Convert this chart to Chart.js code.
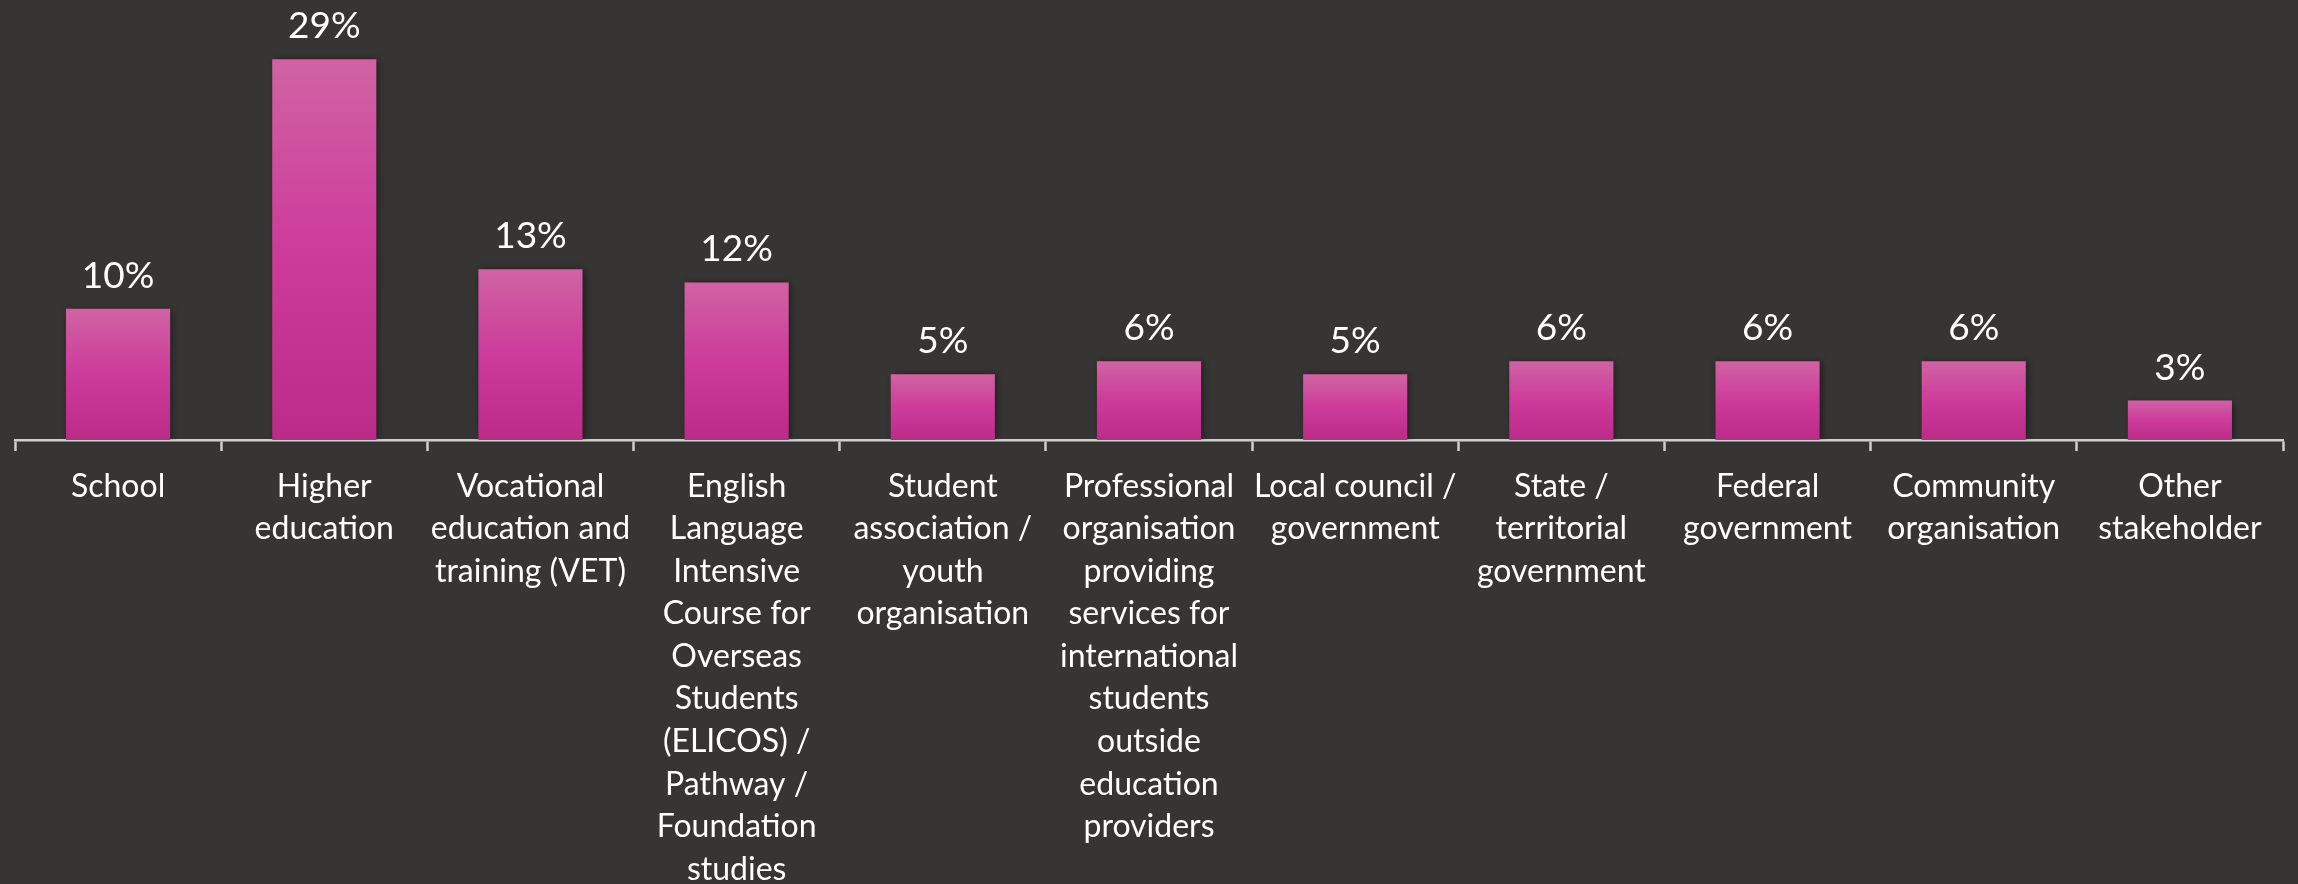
<!DOCTYPE html>
<html lang="en">
<head>
<meta charset="utf-8">
<title>Stakeholder types</title>
<script src="https://cdn.jsdelivr.net/npm/chart.js@4/dist/chart.umd.min.js"></script>
<style>
  html, body { margin: 0; padding: 0; background: #363533; overflow: hidden; }
  #wrap { position: relative; width: 2298px; height: 884px; }
</style>
</head>
<body>
<div id="wrap"><canvas id="chart"></canvas></div>
<script>
// Stakeholder categories (each entry is the wrapped label, one string per line)
const categories = [
  ["School"],
  ["Higher", "education"],
  ["Vocational", "education and", "training (VET)"],
  ["English", "Language", "Intensive", "Course for", "Overseas", "Students", "(ELICOS) /", "Pathway /", "Foundation", "studies"],
  ["Student", "association /", "youth", "organisation"],
  ["Professional", "organisation", "providing", "services for", "international", "students", "outside", "education", "providers"],
  ["Local council /", "government"],
  ["State /", "territorial", "government"],
  ["Federal", "government"],
  ["Community", "organisation"],
  ["Other", "stakeholder"]
];

// Share of respondents, in percent
const shares = [10, 29, 13, 12, 5, 6, 5, 6, 6, 6, 3];

const FONT = "Lato, 'Open Sans', 'Noto Sans', sans-serif";

// Per-bar vertical gradient: lighter pink at the top, deeper magenta at the base
function barGradient(context) {
  const chart = context.chart;
  const y = chart.scales.y;
  if (!y || context.type !== 'data') return '#CC3A9A';
  const top = y.getPixelForValue(context.raw);
  const base = y.getPixelForValue(0);
  if (!isFinite(top) || !isFinite(base) || base - top < 1) return '#CC3A9A';
  const g = chart.ctx.createLinearGradient(0, top, 0, base);
  g.addColorStop(0, '#D063A3');
  g.addColorStop(0.5, '#CD3B9B');
  g.addColorStop(1, '#BC2B89');
  return g;
}

// Soft drop shadow behind the bars
const barShadow = {
  id: 'barShadow',
  beforeDatasetsDraw(chart) {
    const ctx = chart.ctx;
    ctx.save();
    ctx.shadowColor = 'rgba(0,0,0,0.45)';
    ctx.shadowBlur = 7;
    ctx.shadowOffsetX = 2;
    ctx.shadowOffsetY = 1;
  },
  afterDatasetsDraw(chart) {
    chart.ctx.restore();
  }
};

// Percentage labels above each bar
const valueLabels = {
  id: 'valueLabels',
  afterDatasetsDraw(chart) {
    const ctx = chart.ctx;
    const meta = chart.getDatasetMeta(0);
    const data = chart.data.datasets[0].data;
    ctx.save();
    ctx.fillStyle = '#FFFFFF';
    ctx.font = `37px ${FONT}`;
    ctx.textAlign = 'center';
    ctx.textBaseline = 'alphabetic';
    meta.data.forEach((bar, i) => {
      ctx.fillText(`${data[i]}%`, bar.x, bar.y - 21);
    });
    ctx.restore();
  }
};

new Chart(document.getElementById('chart'), {
  type: 'bar',
  data: {
    labels: categories,
    datasets: [{
      data: shares,
      backgroundColor: barGradient,
      borderWidth: 0,
      categoryPercentage: 1,
      barPercentage: 0.505
    }]
  },
  options: {
    responsive: true,
    maintainAspectRatio: false,
    animation: false,
    events: [],
    layout: { padding: { top: 46, left: 15, right: 15, bottom: 0 } },
    plugins: {
      legend: { display: false },
      tooltip: { enabled: false }
    },
    scales: {
      x: {
        offset: true,
        grid: {
          display: true,
          drawOnChartArea: false,
          drawTicks: true,
          tickLength: 11,
          tickWidth: 2.5,
          tickColor: '#CFCFCF',
          offset: true
        },
        border: { display: true, color: '#CFCFCF', width: 2.5 },
        ticks: {
          color: '#FFFFFF',
          autoSkip: false,
          maxRotation: 0,
          minRotation: 0,
          padding: 14,
          font: { family: FONT, size: 32, lineHeight: 1.33 }
        },
        afterFit(scale) { scale.height = 444; }
      },
      y: {
        display: false,
        min: 0,
        max: 30
      }
    }
  },
  plugins: [barShadow, valueLabels]
});
</script>
</body>
</html>
